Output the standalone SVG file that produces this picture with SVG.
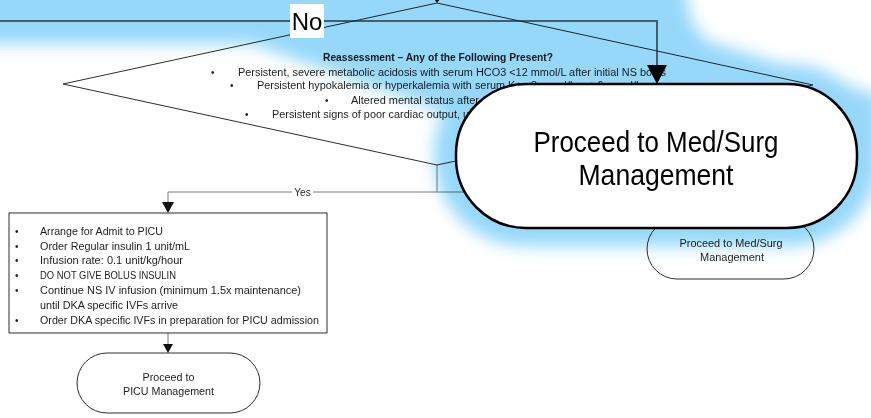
<svg xmlns="http://www.w3.org/2000/svg" width="871" height="418" viewBox="0 0 871 418">
  <defs>
    <style>
      .t{font-family:"Liberation Sans",Arial,sans-serif;font-size:10px;fill:#1e1e1e}
      .tb{font-weight:bold}
      .big{font-family:"Liberation Sans",Arial,sans-serif;font-size:29px;fill:#000}
      .no{font-family:"Liberation Sans",Arial,sans-serif;font-size:24px;fill:#000}
      .shape{fill:none;stroke:#2e2e2e;stroke-width:1}
      .conn{fill:none;stroke:#7a7a7a;stroke-width:1}
      .head{fill:#111}
    </style>
    <filter id="soft" filterUnits="userSpaceOnUse" x="-100" y="-100" width="1100" height="500">
      <feGaussianBlur stdDeviation="8"/>
    </filter>
  </defs>

  <rect x="0" y="0" width="871" height="418" fill="#fff"/>

  <!-- connectors of the base flowchart -->
  <g id="connectors">
    <!-- incoming arrow at the decision top -->
    <line class="conn" x1="437" y1="-6" x2="437" y2="0"/>
    <polygon class="head" points="434,-1 440,-1 437,3"/>
    <!-- Yes branch -->
    <polyline class="conn" points="437,165 437,192 168,192 168,204"/>
    <polyline class="conn" points="437,192 470,192"/>
    <polygon class="head" points="162,202 174,202 168,213"/>
    <rect x="292" y="186" width="21" height="12" fill="#fff"/>
    <text class="t" x="302.5" y="195.5" text-anchor="middle">Yes</text>
    <!-- box to PICU terminal -->
    <line class="conn" x1="168" y1="333" x2="168" y2="345"/>
    <polygon class="head" points="163,344 173,344 168,353"/>
    <!-- No branch routed across the top -->
    <polyline fill="none" stroke="#6f6f6f" stroke-width="2" points="-5,21 657,21 657,68"/>
  </g>

  <!-- decision: reassessment -->
  <g id="decision">
    <polygon class="shape" points="437,3 813,85 437,165 63,84"/>
    <text class="t tb" x="323" y="60.5" textLength="230" lengthAdjust="spacingAndGlyphs">Reassessment – Any of the Following Present?</text>
    <text class="t" x="211" y="75.5">•</text>
    <text class="t" x="238" y="75.5" textLength="428" lengthAdjust="spacingAndGlyphs">Persistent, severe metabolic acidosis with serum HCO3 &lt;12 mmol/L after initial NS bolus</text>
    <text class="t" x="230" y="89">•</text>
    <text class="t" x="257" y="89" textLength="385" lengthAdjust="spacingAndGlyphs">Persistent hypokalemia or hyperkalemia with serum K+ &lt;3 mmol/L or &gt;6 mmol/L</text>
    <text class="t" x="325" y="103.5">•</text>
    <text class="t" x="351" y="103.5" textLength="128" lengthAdjust="spacingAndGlyphs">Altered mental status after</text>
    <text class="t" x="245" y="117.5">•</text>
    <text class="t" x="272" y="117.5" textLength="197" lengthAdjust="spacingAndGlyphs">Persistent signs of poor cardiac output, u</text>
  </g>

  <!-- PICU orders box -->
  <g id="picu-orders">
    <rect class="shape" x="9" y="213" width="318" height="120" fill="#fff"/>
    <text class="t" x="15" y="234.5">•</text>
    <text class="t" x="40" y="234.5" textLength="123" lengthAdjust="spacingAndGlyphs">Arrange for Admit to PICU</text>
    <text class="t" x="15" y="249.5">•</text>
    <text class="t" x="40" y="249.5" textLength="150" lengthAdjust="spacingAndGlyphs">Order Regular insulin 1 unit/mL</text>
    <text class="t" x="15" y="264">•</text>
    <text class="t" x="40" y="264" textLength="143" lengthAdjust="spacingAndGlyphs">Infusion rate: 0.1 unit/kg/hour</text>
    <text class="t" x="15" y="279">•</text>
    <text class="t" x="40" y="279" textLength="136" lengthAdjust="spacingAndGlyphs">DO NOT GIVE BOLUS INSULIN</text>
    <text class="t" x="15" y="294">•</text>
    <text class="t" x="40" y="294" textLength="261" lengthAdjust="spacingAndGlyphs">Continue NS IV infusion (minimum 1.5x maintenance)</text>
    <text class="t" x="40" y="308.5" textLength="138" lengthAdjust="spacingAndGlyphs">until DKA specific IVFs arrive</text>
    <text class="t" x="15" y="323.5">•</text>
    <text class="t" x="40" y="323.5" textLength="279" lengthAdjust="spacingAndGlyphs">Order DKA specific IVFs in preparation for PICU admission</text>
  </g>

  <!-- terminal: PICU management -->
  <g id="picu-terminal">
    <rect class="shape" x="77" y="353" width="183" height="60" rx="30" ry="30" fill="#fff"/>
    <text class="t" x="168.5" y="380.5" text-anchor="middle" textLength="52" lengthAdjust="spacingAndGlyphs">Proceed to</text>
    <text class="t" x="168.5" y="395" text-anchor="middle" textLength="91" lengthAdjust="spacingAndGlyphs">PICU Management</text>
  </g>

  <!-- terminal: med/surg management -->
  <g id="medsurg-terminal">
    <rect class="shape" x="647" y="219" width="167" height="60" rx="30" ry="30"/>
    <text class="t" x="731" y="246.5" text-anchor="middle" textLength="103" lengthAdjust="spacingAndGlyphs">Proceed to Med/Surg</text>
    <text class="t" x="732" y="261" text-anchor="middle" textLength="64" lengthAdjust="spacingAndGlyphs">Management</text>
  </g>

  <!-- highlight glow of the magnified callout -->
  <g id="glow" style="mix-blend-mode:multiply" filter="url(#soft)" fill="#96d8fa">
    <path d="M-60,-60 H680 L690,18 L705,40 L880,96 V150 H440 V110 L252,44 H-60 Z"/>
    <rect x="434" y="64" width="445" height="182" rx="90" ry="90"/>
  </g>

  <!-- magnified callout: No label -->
  <g id="no-label">
    <rect x="290" y="4" width="34" height="34" fill="#fff"/>
    <text class="no" x="307" y="30" text-anchor="middle">No</text>
  </g>

  <!-- magnified callout: Med/Surg terminal -->
  <g id="medsurg-callout">
    <polygon fill="#000" points="647,65 667,65 657,84"/>
    <rect x="456" y="84" width="401" height="144" rx="70" ry="70" fill="#fff" stroke="#000" stroke-width="2.5"/>
    <text class="big" x="656" y="152" text-anchor="middle" textLength="245" lengthAdjust="spacingAndGlyphs">Proceed to Med/Surg</text>
    <text class="big" x="656" y="185" text-anchor="middle" textLength="155" lengthAdjust="spacingAndGlyphs">Management</text>
  </g>
</svg>
